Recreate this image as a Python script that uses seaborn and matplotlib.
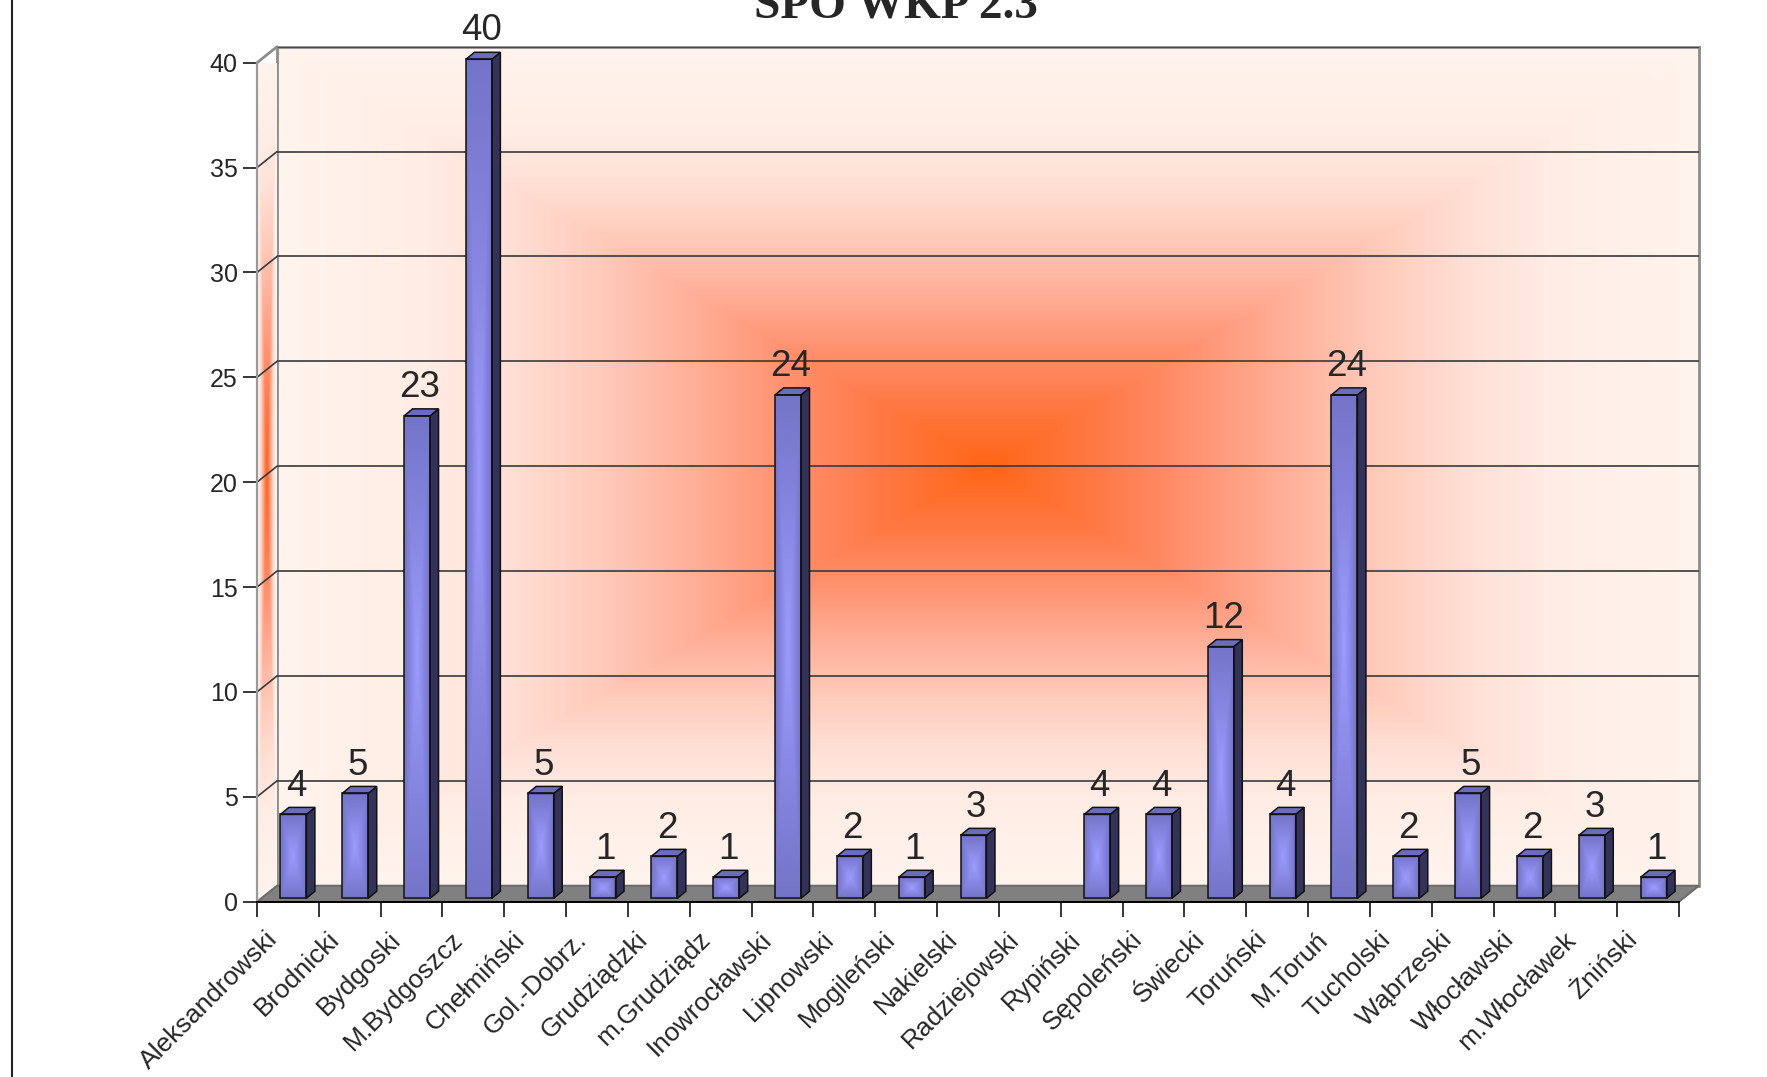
import numpy as np
import pandas as pd
import matplotlib
matplotlib.use("Agg")
import matplotlib.pyplot as plt
import matplotlib.transforms as mtransforms
from matplotlib.colors import LinearSegmentedColormap
from matplotlib.patches import Polygon
from matplotlib.lines import Line2D
import seaborn as sns

# --- data -------------------------------------------------------------
districts = ["Aleksandrowski", "Brodnicki", "Bydgoski", "M.Bydgoszcz", "Chełmiński",
             "Gol.-Dobrz.", "Grudziądzki", "m.Grudziądz", "Inowrocławski", "Lipnowski",
             "Mogileński", "Nakielski", "Radziejowski", "Rypiński", "Sępoleński",
             "Świecki", "Toruński", "M.Toruń", "Tucholski", "Wąbrzeski",
             "Włocławski", "m.Włocławek", "Żniński"]
projects = [4, 5, 23, 40, 5, 1, 2, 1, 24, 2, 1, 3, np.nan, 4, 4, 12, 4, 24, 2, 5, 2, 3, 1]
y_ticks = list(range(0, 41, 5))
title = "SPO WKP 2.3"

# --- geometry of the fake 3D box (pixels) -----------------------------
W, H, DPI = 1767, 1077, 100
FX0, FX1, FY0, FY40 = 257, 1679, 901.7, 62.7
WALL_DX, WALL_DY = 20, 16
BAR_DX, BAR_DY = 5.5, 3.4
DEPTH_X, DEPTH_Y = 8.5, 7

sns.set_theme(style="white")
plt.rcParams["font.family"] = ["Liberation Sans", "DejaVu Sans"]

wall_cmap = LinearSegmentedColormap.from_list("wall", [
    (0.0, "#FF6612"), (0.03, "#FF6A20"), (0.16, "#FF7A48"), (0.29, "#FF9372"),
    (0.42, "#FFB09A"), (0.55, "#FFCBBB"), (0.68, "#FFE0D6"), (0.8, "#FFEDE5"),
    (1.0, "#FFF4EE")])
bar_cmap = LinearSegmentedColormap.from_list("bar", ["#9C9CFF", "#7474C8"])


def rect_gradient(nx, ny):
    gx, gy = np.meshgrid(np.linspace(-1, 1, nx), np.linspace(-1, 1, ny))
    return np.maximum(np.abs(gx), np.abs(gy))


fig = plt.figure(figsize=(W / DPI, H / DPI), dpi=DPI)
fw, fh = (FX1 - FX0) / W, (FY0 - FY40) / H
axb = fig.add_axes([(FX0 + WALL_DX) / W, 1 - (FY0 - WALL_DY) / H, fw, fh], zorder=0)
ax = fig.add_axes([FX0 / W, 1 - FY0 / H, fw, fh], zorder=1)
ax.set_facecolor("none")

n = len(districts)
xlim = (-0.5, n - 0.5)
ux = n / (FX1 - FX0)
uy = 40 / (FY0 - FY40)

# back wall
axb.imshow(wall_cmap(rect_gradient(712, 420)), extent=(*xlim, 0, 40), aspect="auto",
           origin="lower", interpolation="bilinear", zorder=0)
axb.set_xlim(*xlim)
axb.set_ylim(0, 40)
axb.set_yticks(y_ticks)
axb.set_xticks([])
axb.grid(True, axis="y", color="#3A3A3A", lw=1.2)
axb.set_axisbelow(False)
axb.tick_params(left=False, labelleft=False, bottom=False, labelbottom=False)
for s in ["top", "left", "right"]:
    axb.spines[s].set_color("#8C8C8C")
    axb.spines[s].set_linewidth(2)
axb.spines["bottom"].set_visible(False)

# bars
df = pd.DataFrame({"district": districts, "projects": projects})
sns.barplot(data=df, x="district", y="projects", order=districts, color="#8080E0",
            width=0.42, saturation=1, errorbar=None, ax=ax)
bars = [p for p in ax.patches if np.isfinite(p.get_height()) and p.get_height() > 0]

# floor
ddx, ddy = WALL_DX * ux, WALL_DY * uy
ax.add_patch(Polygon([(xlim[0], 0), (xlim[1], 0), (xlim[1] + ddx, ddy), (xlim[0] + ddx, ddy)],
                     closed=True, fc="#808080", ec="#6A6A6A", lw=1.4, zorder=1, clip_on=False))

# left side wall
sx1, stop = xlim[0] + ddx, 40 + ddy
X, Y = np.meshgrid(np.linspace(xlim[0], sx1, 40), np.linspace(0, stop, 900))
u = (X - xlim[0]) / ddx
v = (Y - u * ddy) / 40
t = np.clip(np.maximum(np.abs(2 * u - 1), np.abs(2 * v - 1)), 0, 1)
im = ax.imshow(wall_cmap(t), extent=(xlim[0], sx1, 0, stop), origin="lower", aspect="auto",
               interpolation="bilinear", zorder=0.5)
im.set_clip_path(Polygon([(xlim[0], 0), (sx1, ddy), (sx1, stop), (xlim[0], 40)],
                         transform=ax.transData))
im.set_clip_box(None)
for yv in y_ticks[1:]:
    ax.plot([xlim[0], sx1], [yv, yv + ddy], color="#8C8C8C" if yv == 40 else "#3A3A3A",
            lw=2 if yv == 40 else 1.2, clip_on=False, zorder=1.5)

# 3D bar faces
bdx, bdy = DEPTH_X * ux, DEPTH_Y * uy
for p in bars:
    x0, w, h = p.get_x() + BAR_DX * ux, p.get_width(), p.get_height()
    y0 = BAR_DY * uy
    p.set_x(x0)
    p.set_y(y0)
    p.set_facecolor("none")
    p.set_edgecolor("#111111")
    p.set_linewidth(1.1)
    p.set_zorder(4)
    p.set_clip_on(False)
    ax.imshow(bar_cmap(rect_gradient(24, 60)), extent=(x0, x0 + w, y0, y0 + h), aspect="auto",
              origin="lower", interpolation="bilinear", zorder=3, clip_on=False)
    ax.add_patch(Polygon([(x0 + w, y0), (x0 + w + bdx, y0 + bdy), (x0 + w + bdx, y0 + h + bdy),
                          (x0 + w, y0 + h)], fc="#33335A", ec="#111111", lw=1.1, zorder=3,
                         clip_on=False))
    ax.add_patch(Polygon([(x0, y0 + h), (x0 + w, y0 + h), (x0 + w + bdx, y0 + h + bdy),
                          (x0 + bdx, y0 + h + bdy)], fc="#6C6CBE", ec="#111111", lw=1.1,
                         zorder=3, clip_on=False))

# value labels
for i, val in enumerate(projects):
    if np.isfinite(val):
        ax.annotate(f"{val:.0f}", (i, val), xytext=(5.8, 16), textcoords="offset points",
                    ha="center", va="baseline", fontsize=26.5, annotation_clip=False, zorder=5)

# axes
ax.set_xlim(*xlim)
ax.set_ylim(0, 40)
ax.set_xlabel("")
ax.set_ylabel("")
ax.set_yticks(y_ticks)
ax.tick_params(axis="y", which="major", left=True, length=10.3, width=1.1, color="black",
               labelsize=18, pad=3.6)
ax.set_xticks(np.arange(-0.5, n, 1), minor=True)
ax.tick_params(axis="x", which="minor", bottom=True, length=10.8, width=1.1, color="black")
ax.set_xticks(range(n), labels=districts, rotation=45, ha="right", rotation_mode="anchor")
ax.tick_params(axis="x", which="major", length=0, pad=18.4, labelsize=19)
shift = mtransforms.ScaledTranslation(-23 / DPI, 0, fig.dpi_scale_trans)
for lab in ax.get_xticklabels():
    lab.set_transform(lab.get_transform() + shift)
for s in ["top", "right"]:
    ax.spines[s].set_visible(False)
ax.spines["left"].set_color("#9A9A9A")
ax.spines["left"].set_linewidth(1.6)
ax.spines["bottom"].set_color("black")
ax.spines["bottom"].set_linewidth(1.4)

fig.text(896 / W, 1 - 18 / H, title, ha="center", va="baseline", fontsize=34,
         fontweight="bold", family=["Liberation Serif", "DejaVu Serif"])
fig.add_artist(Line2D([11.5 / W, 11.5 / W], [0, 1], transform=fig.transFigure,
                      color="#222222", lw=1.5))

fig.savefig("out.png", dpi=DPI)
